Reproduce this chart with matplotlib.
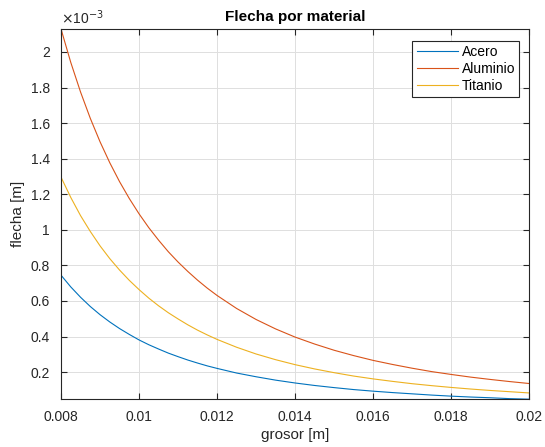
import matplotlib.pyplot as plt
import numpy as np

plt.rcParams['font.family'] = ['Liberation Sans', 'DejaVu Sans']

# grosor [m]
grosor = [0.008, 0.00825, 0.0085, 0.00875, 0.009, 0.00925, 0.0095, 0.00975,
          0.010, 0.01025, 0.0105, 0.01075, 0.011, 0.01125, 0.0115, 0.01175,
          0.012, 0.0125, 0.013, 0.0135, 0.014, 0.0145, 0.015, 0.0155, 0.016,
          0.0165, 0.017, 0.0175, 0.018, 0.0185, 0.019, 0.0195, 0.020]

# flecha (x 1e-3 m)
acero = [0.745, 0.679, 0.621, 0.569, 0.523, 0.482, 0.445, 0.412, 0.381, 0.354,
         0.330, 0.307, 0.287, 0.268, 0.251, 0.235, 0.221, 0.195,
         0.174, 0.155, 0.139, 0.125, 0.113, 0.102, 0.093, 0.085, 0.078, 0.071,
         0.065, 0.060, 0.056, 0.051, 0.048]
aluminio = [2.129, 1.941, 1.775, 1.627, 1.495, 1.377, 1.271, 1.176, 1.090, 1.012,
            0.942, 0.877, 0.819, 0.766, 0.717, 0.672, 0.631, 0.558,
            0.496, 0.443, 0.397, 0.358, 0.323, 0.293, 0.266, 0.243, 0.222, 0.203,
            0.187, 0.172, 0.159, 0.147, 0.136]
titanio = [1.296, 1.182, 1.080, 0.991, 0.910, 0.838, 0.774, 0.716, 0.664, 0.616,
           0.573, 0.534, 0.499, 0.466, 0.436, 0.409, 0.384, 0.340,
           0.302, 0.270, 0.242, 0.218, 0.197, 0.178, 0.162, 0.148, 0.135, 0.124,
           0.114, 0.105, 0.097, 0.090, 0.083]

xticks = [0.008, 0.01, 0.012, 0.014, 0.016, 0.018, 0.02]
xlabels = ['0.008', '0.01', '0.012', '0.014', '0.016', '0.018', '0.02']
yticks = [0.2, 0.4, 0.6, 0.8, 1.0, 1.2, 1.4, 1.6, 1.8, 2.0]
ylabels = ['0.2', '0.4', '0.6', '0.8', '1', '1.2', '1.4', '1.6', '1.8', '2']

fig = plt.figure(figsize=(5.45, 4.47), dpi=100)
ax = fig.add_axes([0.112, 0.107, 0.859, 0.828])

ax.plot(grosor, acero, color='#0072BD', lw=0.8, label='Acero')
ax.plot(grosor, aluminio, color='#D95319', lw=0.8, label='Aluminio')
ax.plot(grosor, titanio, color='#EDB120', lw=0.8, label='Titanio')

todos = acero + aluminio + titanio
ax.set_xlim(min(grosor), max(grosor))
ax.set_ylim(min(todos), max(todos))

ax.set_xticks(xticks)
ax.set_xticklabels(xlabels)
ax.set_yticks(yticks)
ax.set_yticklabels(ylabels)

gris = '#262626'
ax.grid(True, color='#dfdfdf', lw=0.7)
ax.set_axisbelow(True)
for s in ax.spines.values():
    s.set_color(gris)
    s.set_linewidth(0.8)
ax.tick_params(direction='in', top=True, right=True, colors=gris,
               labelsize=10, length=4, width=0.8, pad=8)
for lab in ax.get_xticklabels() + ax.get_yticklabels():
    lab.set_color(gris)

ax.set_xlabel('grosor [m]', fontsize=11, color=gris, labelpad=3)
ax.set_ylabel('flecha [m]', fontsize=11, color=gris, labelpad=4)
ax.set_title('Flecha por material', fontsize=11, fontweight='bold', pad=6)
ax.text(0.0, 1.005, r'$\times$10$^{-3}$', transform=ax.transAxes,
        fontsize=10, color=gris, ha='left', va='bottom')

leg = ax.legend(loc='upper right', bbox_to_anchor=(0.979, 0.968), fontsize=10,
                fancybox=False, edgecolor=gris, framealpha=1,
                handlelength=3.0, handletextpad=0.25, borderpad=0.3,
                labelspacing=0.22, borderaxespad=0)
leg.get_frame().set_linewidth(0.8)

fig.savefig('out.png', dpi=100)
